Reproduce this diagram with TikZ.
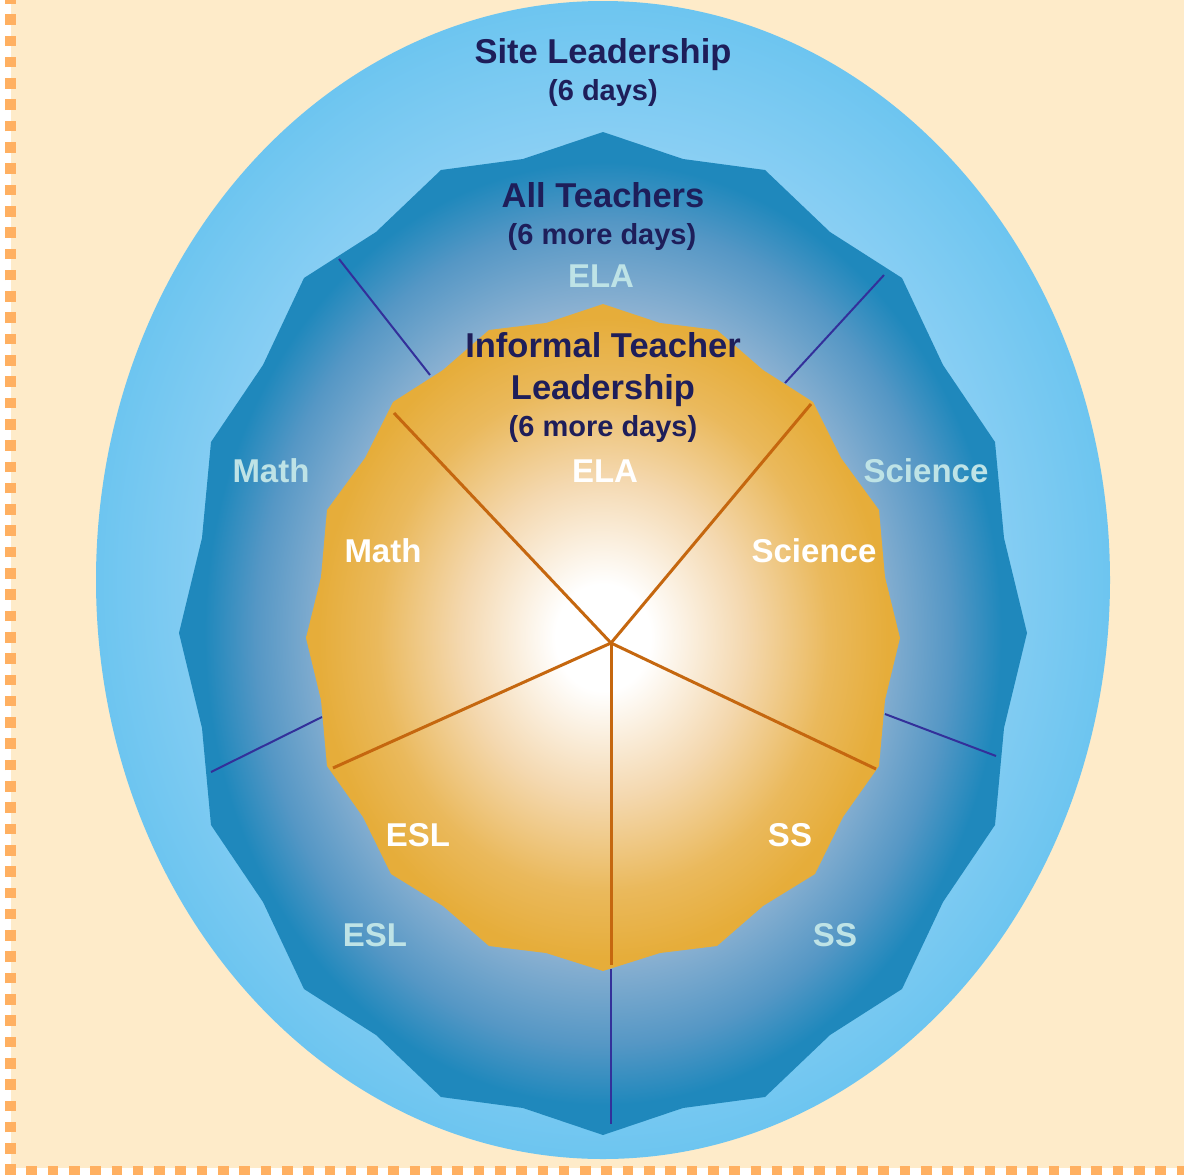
\documentclass[tikz,border=0pt]{standalone}
\usepackage{fontspec}
\setmainfont{Liberation Sans}
\begin{document}
\definecolor{paper}{HTML}{FEEBC9}
\definecolor{dashorange}{HTML}{FFB061}
\definecolor{skyout}{HTML}{6DC5F0}
\definecolor{skyin}{HTML}{8DD0F4}
\definecolor{skymid}{HTML}{A4D9F6}
\definecolor{deepblue}{HTML}{1F88BC}
\definecolor{midblue}{HTML}{5597C5}
\definecolor{paleblue}{HTML}{8DB2D2}
\definecolor{coreblue}{HTML}{B8CCE0}
\definecolor{gold}{HTML}{E6AD3A}
\definecolor{goldmid}{HTML}{EAB95C}
\definecolor{peach}{HTML}{F4D8AF}
\definecolor{navytext}{HTML}{1E1E5A}
\definecolor{palelabel}{HTML}{BEE3E6}
\definecolor{spokeblue}{HTML}{33309A}
\definecolor{spokeorange}{HTML}{C5670F}
% radial fills, fitted to each shape's bounding box (25bp = half the box)
\pgfdeclareradialshading{skyshade}{\pgfpointorigin}{color(0bp)=(skymid); color(18bp)=(skyin); color(25bp)=(skyout); color(50bp)=(skyout)}
\pgfdeclareradialshading{ringshade}{\pgfpointorigin}{color(0bp)=(coreblue); color(16bp)=(paleblue); color(20.5bp)=(midblue); color(23.5bp)=(deepblue); color(50bp)=(deepblue)}
\pgfdeclareradialshading{coreshade}{\pgfpointorigin}{color(0bp)=(white); color(4bp)=(white); color(12bp)=(peach); color(19bp)=(goldmid); color(24bp)=(gold); color(50bp)=(gold)}
\begin{tikzpicture}[x=1pt,y=-1pt,
  title/.style={font=\fontsize{34.5}{40}\selectfont\bfseries, text=navytext, anchor=base, inner sep=0pt},
  days/.style={font=\fontsize{29}{34}\selectfont\bfseries, text=navytext, anchor=base, inner sep=0pt},
  outerlab/.style={font=\fontsize{33}{38}\selectfont\bfseries, text=palelabel, anchor=base, inner sep=0pt},
  innerlab/.style={font=\fontsize{33}{38}\selectfont\bfseries, text=white, anchor=base, inner sep=0pt},
  bluespoke/.style={draw=spokeblue, line width=2pt},
  orangespoke/.style={draw=spokeorange, line width=3pt}]
\useasboundingbox (0,0) rectangle (1184,1175);
% page and dotted frame
\fill[white] (0,0) rectangle (1184,1175);
\fill[paper] (11,0) rectangle (1184,1168);
\draw[dashorange, line width=11pt, dash pattern=on 10.6pt off 10.7pt] (10.5,1175) -- (10.5,0);
\draw[dashorange, line width=9pt, dash pattern=on 10.6pt off 10.7pt] (5,1170) -- (1184,1170);

% outer ellipse: site leadership
\fill[skyout] (603,580) ellipse [x radius=507, y radius=579];
\shade[shading=skyshade] (603,580) ellipse [x radius=506, y radius=578];

% middle ring: all teachers
\shade[shading=ringshade] (603,132) -- (683,159) -- (765,170) -- (830,232) -- (902,278) -- (943,365)
  -- (995,442) -- (1004,538) -- (1027,633) -- (1004,728) -- (995,825) -- (943,902) -- (902,989)
  -- (830,1035) -- (765,1097) -- (683,1108) -- (603,1135) -- (523,1108) -- (441,1097) -- (376,1035)
  -- (304,989) -- (263,902) -- (211,825) -- (202,728) -- (179,633) -- (202,538) -- (211,442)
  -- (263,365) -- (304,278) -- (376,232) -- (441,170) -- (523,159) -- cycle;

% ring dividers
\coordinate (r1a) at (430,375); \coordinate (r1b) at (339,259);
\coordinate (r2a) at (785,383); \coordinate (r2b) at (884,275);
\coordinate (r3a) at (322,717); \coordinate (r3b) at (211,772);
\coordinate (r4a) at (885,714); \coordinate (r4b) at (996,756);
\coordinate (r5a) at (611,969); \coordinate (r5b) at (611,1124);
\draw[bluespoke] (r1a) -- (r1b);
\draw[bluespoke] (r2a) -- (r2b);
\draw[bluespoke] (r3a) -- (r3b);
\draw[bluespoke] (r4a) -- (r4b);
\draw[bluespoke] (r5a) -- (r5b);

% inner core: informal teacher leadership
\shade[shading=coreshade] (603,304) -- (660,323) -- (717,330) -- (763,370) -- (813,402) -- (841,458)
  -- (879,510) -- (885,577) -- (900,638) -- (885,700) -- (879,766) -- (843,817) -- (815,874)
  -- (763,906) -- (717,946) -- (660,953) -- (603,971) -- (546,953) -- (489,946) -- (443,906)
  -- (391,874) -- (363,817) -- (327,766) -- (321,700) -- (306,638) -- (321,577) -- (327,510)
  -- (365,458) -- (393,402) -- (443,370) -- (489,330) -- (546,323) -- cycle;

% core dividers
\coordinate (hub) at (611,643);
\coordinate (c1) at (394,413);
\coordinate (c2) at (811,404);
\coordinate (c3) at (333,768);
\coordinate (c4) at (876,769);
\coordinate (c5) at (611,965);
\draw[orangespoke] (hub) -- (c1);
\draw[orangespoke] (hub) -- (c2);
\draw[orangespoke] (hub) -- (c3);
\draw[orangespoke] (hub) -- (c4);
\draw[orangespoke] (hub) -- (c5);

% headings
\node[title] (siteA) at (603,63) {Site Leadership};
\node[days]  (siteB) at (603,100) {(6 days)};
\node[title] (allA)  at (603,207) {All Teachers};
\node[days]  (allB)  at (602,244) {(6 more days)};
\node[title] (infA)  at (603,357) {Informal Teacher};
\node[title] (infB)  at (603,399) {Leadership};
\node[days]  (infC)  at (603,436) {(6 more days)};

% subject labels, ring
\node[outerlab] (oELA) at (601,287) {ELA};
\node[outerlab] (oMath) at (271,482) {Math};
\node[outerlab] (oSci) at (926,482) {Science};
\node[outerlab] (oESL) at (375,946) {ESL};
\node[outerlab] (oSS) at (835,946) {SS};

% subject labels, core
\node[innerlab] (iELA) at (605,482) {ELA};
\node[innerlab] (iMath) at (383,562) {Math};
\node[innerlab] (iSci) at (814,562) {Science};
\node[innerlab] (iESL) at (418,846) {ESL};
\node[innerlab] (iSS) at (790,846) {SS};
\end{tikzpicture}
\end{document}
